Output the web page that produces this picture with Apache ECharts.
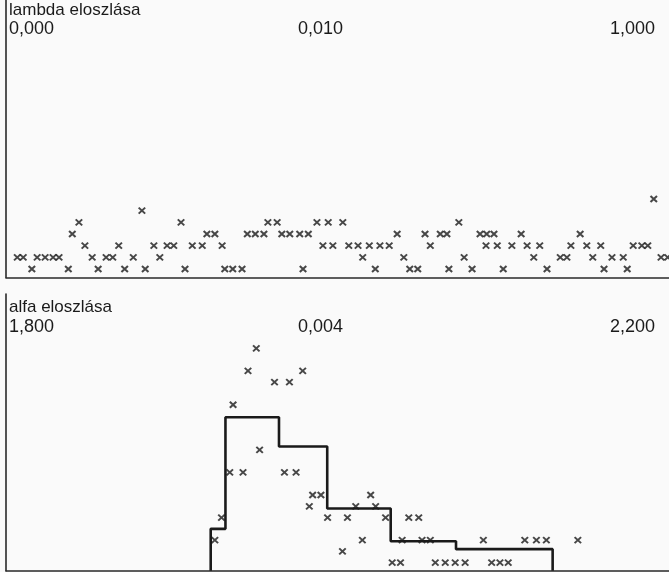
<!DOCTYPE html>
<html>
<head>
<meta charset="utf-8">
<script src="https://cdn.jsdelivr.net/npm/echarts@6/dist/echarts.min.js"></script>
<style>
html,body{margin:0;padding:0;background:#fafafa;}
#c{width:669px;height:572px;}
</style>
</head>
<body>
<div id="c"></div>
<script>
// ---------- DATA ----------
const lambdaTitle = 'lambda eloszlása';
const lambdaLabels = ['0,000', '0,010', '1,000'];
const alfaTitle = 'alfa eloszlása';
const alfaLabels = ['1,800', '0,004', '2,200'];

// lambda scatter: x = lambda value, y = count level
const lambdaX = [
  0.977,
  0.205,
  0.110,0.264,0.395,0.409,0.469,0.486,0.508,0.683,
  0.100,0.303,0.315,0.364,0.376,0.389,0.416,0.428,0.443,0.456,0.590,0.632,0.655,0.665,0.715,0.725,0.736,0.777,0.866,
  0.119,0.170,0.223,0.243,0.253,0.281,0.296,0.326,0.478,0.493,0.517,0.531,0.548,0.564,0.578,0.640,0.724,0.741,0.763,0.786,0.805,0.852,0.876,0.897,0.946,0.959,0.968,
  0.017,0.026,0.047,0.059,0.071,0.080,0.130,0.151,0.161,0.192,0.232,0.538,0.600,0.691,0.796,0.836,0.846,0.885,0.914,0.931,0.988,0.998,
  0.039,0.094,0.139,0.179,0.210,0.270,0.330,0.342,0.356,0.448,0.557,0.609,0.621,0.668,0.703,0.750,0.816,0.902,0.937
];
const lambdaY = [
  7,
  6,
  5,5,5,5,5,5,5,5,
  4,4,4,4,4,4,4,4,4,4,4,4,4,4,4,4,4,4,4,
  3,3,3,3,3,3,3,3,3,3,3,3,3,3,3,3,3,3,3,3,3,3,3,3,3,3,3,
  2,2,2,2,2,2,2,2,2,2,2,2,2,2,2,2,2,2,2,2,2,2,
  1,1,1,1,1,1,1,1,1,1,1,1,1,1,1,1,1,1,1
];

// alfa scatter
const alfaX = [
  1.951,1.946,1.979,1.962,1.971,1.937,1.953,
  1.935,1.943,1.968,1.975,
  1.985,1.990,2.020,
  1.983,2.011,2.023,
  1.930,1.994,2.006,2.029,2.043,2.049,
  1.926,2.015,2.039,2.051,2.056,2.088,2.113,2.120,2.126,2.145,
  2.003,
  2.033,2.038,2.059,2.065,2.071,2.077,2.093,2.098,2.103
];
const alfaY = [
  20,18,18,17,17,15,11,
  9,9,9,9,
  7,7,7,
  6,6,6,
  5,5,5,5,5,5,
  3,3,3,3,3,3,3,3,3,3,
  2,
  1,1,1,1,1,1,1,1,1
];

// alfa fitted step histogram: bin edges and heights
const alfaEdges = [1.9235, 1.9324, 1.9647, 1.9938, 2.0321, 2.0715, 2.1298];
const alfaHeights = [4.0, 13.9, 11.3, 5.8, 2.9, 2.2];

// ---------- BUILD ----------
const INK = '#1a1a1a';
const lamYMin = 0.272, lamYMax = 24.05;
const alfYMin = 0.29, alfYMax = 24.82;

function zip(xs, ys) { return xs.map((x, i) => [x, ys[i]]); }

const stepData = [[alfaEdges[0], alfYMin]];
alfaHeights.forEach((h, i) => {
  stepData.push([alfaEdges[i], h]);
  stepData.push([alfaEdges[i + 1], h]);
});
stepData.push([alfaEdges[alfaEdges.length - 1], alfYMin]);

const cross = 'path://M0 0L10 10M10 0L0 10';
const markerStyle = { color: INK, borderColor: INK, borderWidth: 1.9 };

const axisLine = { show: true, lineStyle: { color: '#2a2a2a', width: 1.6 } };
function xAx(gi, min, max) {
  return { gridIndex: gi, type: 'value', min: min, max: max, axisLine: axisLine,
    axisTick: { show: false }, axisLabel: { show: false }, splitLine: { show: false } };
}
function yAx(gi, min, max) {
  return { gridIndex: gi, type: 'value', min: min, max: max, axisLine: axisLine,
    axisTick: { show: false }, axisLabel: { show: false }, splitLine: { show: false } };
}

const FONT = 'Liberation Sans';
function txt(t, x, y, size) {
  return { type: 'text', left: x, top: y,
    style: { text: t, fill: INK, fontSize: size, fontFamily: FONT } };
}

const chart = echarts.init(document.getElementById('c'), null, { renderer: 'canvas' });
chart.setOption({
  backgroundColor: '#fafafa',
  animation: false,
  grid: [
    { left: 6, right: 0, top: 0, bottom: 294.5 },
    { left: 6, right: 0, top: 294, bottom: 1.3 }
  ],
  xAxis: [xAx(0, 0, 1), xAx(1, 1.8, 2.2)],
  yAxis: [yAx(0, lamYMin, lamYMax), yAx(1, alfYMin, alfYMax)],
  series: [
    { type: 'scatter', xAxisIndex: 0, yAxisIndex: 0, data: zip(lambdaX, lambdaY),
      symbol: cross, symbolSize: [6.5, 6], itemStyle: markerStyle, clip: false },
    { type: 'scatter', xAxisIndex: 1, yAxisIndex: 1, data: zip(alfaX, alfaY),
      symbol: cross, symbolSize: [6.5, 6], itemStyle: markerStyle, clip: false },
    { type: 'line', xAxisIndex: 1, yAxisIndex: 1, data: stepData, showSymbol: false,
      lineStyle: { color: INK, width: 2.6 }, z: 1 }
  ],
  graphic: [
    txt(lambdaTitle, 9, 2, 17),
    txt(lambdaLabels[0], 9, 20, 18),
    txt(lambdaLabels[1], 298, 20, 18),
    txt(lambdaLabels[2], 610, 20, 18),
    txt(alfaTitle, 9, 299, 17),
    txt(alfaLabels[0], 9, 318, 18),
    txt(alfaLabels[1], 298, 318, 18),
    txt(alfaLabels[2], 610, 318, 18)
  ]
});
</script>
</body>
</html>
